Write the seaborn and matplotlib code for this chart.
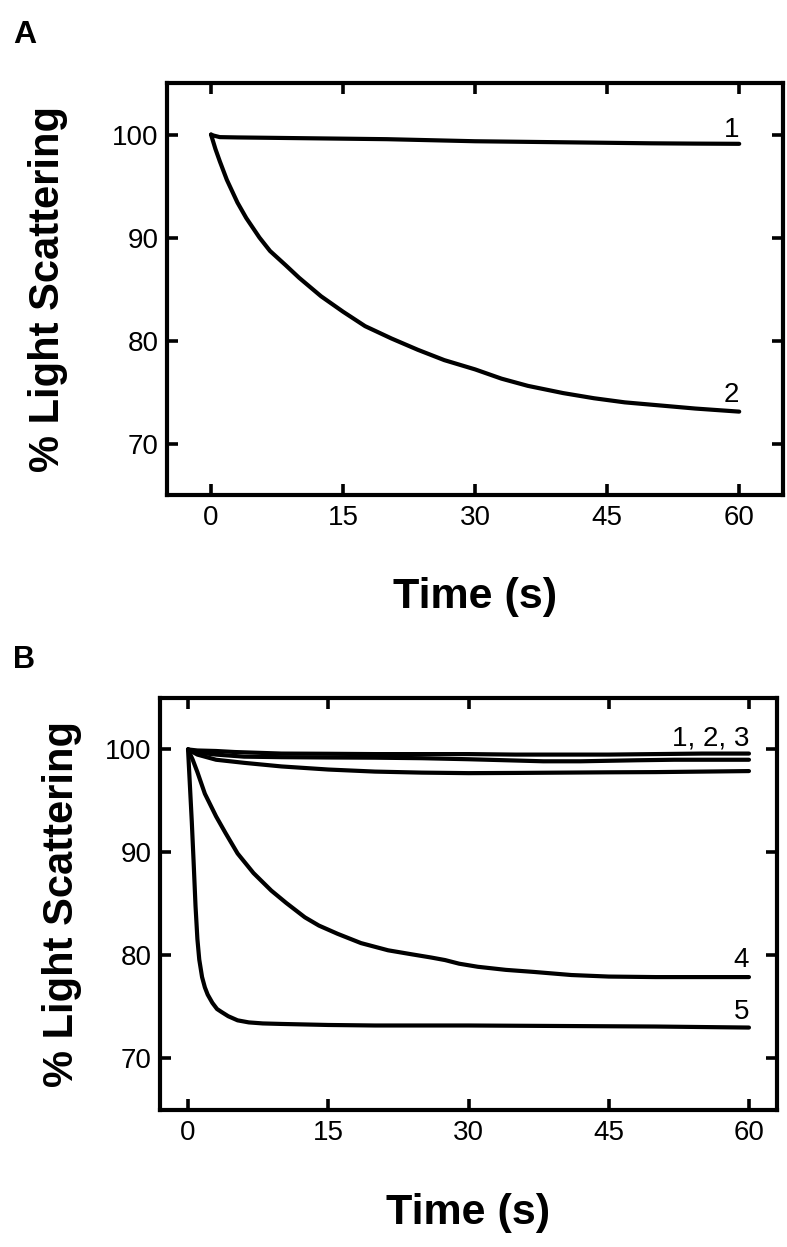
import matplotlib
matplotlib.use("Agg")
import matplotlib.pyplot as plt
import pandas as pd
import seaborn as sns

# ---- data ----
# Panel A
a1_t = [0, 0.3, 1, 3, 5, 10, 15, 20, 25, 30, 35, 40, 45, 50, 55, 60]
a1_y = [100, 99.9, 99.75, 99.72, 99.7, 99.65, 99.6, 99.55, 99.45, 99.35, 99.3, 99.25, 99.2, 99.15, 99.12, 99.1]

a2_t = [0, 0.5, 1.0, 1.8, 3, 4, 5.5, 6.7, 8.5, 10, 12.5, 15, 17.5, 20.5, 23.5, 26.5,
        30, 33, 36, 40, 43.5, 47, 51, 55, 60]
a2_y = [100, 98.6, 97.4, 95.6, 93.4, 91.9, 90.0, 88.7, 87.3, 86.1, 84.3, 82.8, 81.4, 80.2, 79.1, 78.1,
        77.2, 76.3, 75.6, 74.9, 74.4, 74.0, 73.7, 73.4, 73.1]

# Panel B
b1_t = [0, 1, 3, 5, 10, 15, 20, 25, 30, 35, 40, 45, 50, 55, 60]
b1_y = [100, 99.9, 99.85, 99.75, 99.6, 99.58, 99.55, 99.55, 99.55, 99.5, 99.5, 99.5, 99.55, 99.6, 99.6]

b2_t = [0, 1, 3, 6, 10, 15, 20, 25, 30, 34, 38, 42, 45, 48, 52, 56, 60]
b2_y = [100, 99.7, 99.5, 99.3, 99.25, 99.22, 99.2, 99.15, 99.05, 98.95, 98.85, 98.85, 98.9, 98.95, 99.0, 99.0, 99.0]

b3_t = [0, 1, 3, 6, 10, 15, 20, 25, 30, 35, 40, 45, 50, 55, 60]
b3_y = [100, 99.5, 99.0, 98.7, 98.35, 98.05, 97.85, 97.75, 97.7, 97.72, 97.75, 97.78, 97.8, 97.85, 97.9]

b4_t = [0, 0.5, 1.0, 1.8, 3, 4, 5.3, 7, 8.9, 10.5, 12.5, 14, 16, 18.5, 21.4, 24, 26,
        27.5, 29, 31, 34, 37, 41, 45, 50, 55, 60]
b4_y = [100, 99.0, 97.8, 95.7, 93.5, 91.9, 89.9, 88.0, 86.3, 85.1, 83.7, 82.9, 82.1, 81.2, 80.5, 80.1, 79.8,
        79.55, 79.2, 78.9, 78.6, 78.4, 78.1, 77.95, 77.9, 77.9, 77.9]

b5_t = [0, 0.2, 0.4, 0.6, 0.8, 1.0, 1.2, 1.5, 1.8, 2.1, 2.6, 3.1, 3.6, 4.3, 5.3, 6.5, 8, 10,
        15, 20, 30, 40, 50, 60]
b5_y = [100, 96.5, 93.0, 89.0, 84.8, 81.6, 79.6, 77.9, 76.9, 76.2, 75.4, 74.8, 74.5, 74.1, 73.7, 73.5, 73.4, 73.35,
        73.25, 73.2, 73.2, 73.15, 73.1, 73.0]

a_curves = {"1": (a1_t, a1_y), "2": (a2_t, a2_y)}
b_curves = {"1": (b1_t, b1_y), "2": (b2_t, b2_y), "3": (b3_t, b3_y),
            "4": (b4_t, b4_y), "5": (b5_t, b5_y)}

x_ticks = [0, 15, 30, 45, 60]
y_ticks = [70, 80, 90, 100]

sns.set_style("ticks")
plt.rcParams["font.family"] = ["Liberation Sans", "DejaVu Sans"]
plt.rcParams["text.color"] = "black"
plt.rcParams["axes.labelcolor"] = "black"
plt.rcParams["xtick.color"] = "black"
plt.rcParams["ytick.color"] = "black"


def to_frame(curves):
    rows = []
    for name, (t, y) in curves.items():
        for ti, yi in zip(t, y):
            rows.append({"curve": name, "time": ti, "ls": yi})
    return pd.DataFrame(rows)


def style_axes(ax, xlim):
    ax.set_xlim(*xlim)
    ax.set_ylim(65, 105)
    ax.set_xticks(x_ticks)
    ax.set_yticks(y_ticks)
    ax.set_xlabel("")
    ax.set_ylabel("")
    for sp in ax.spines.values():
        sp.set_visible(True)
        sp.set_linewidth(3)
        sp.set_color("black")
    ax.tick_params(direction="in", length=8, width=2.6, top=True, right=True,
                   labelsize=20, colors="black", labelcolor="black")
    ax.tick_params(axis="x", pad=7)
    ax.tick_params(axis="y", pad=6)


fig = plt.figure(figsize=(7.87, 12.47), dpi=100)

# panel A
axA = fig.add_axes([0.2122, 0.6030, 0.7830, 0.3304])
dfA = to_frame(a_curves)
sns.lineplot(data=dfA, x="time", y="ls", units="curve", estimator=None, sort=False,
             color="black", linewidth=3.0, ax=axA)
style_axes(axA, (-5, 65))
axA.text(60, 99.8, "1", ha="right", va="baseline", fontsize=20, color="black")
axA.text(60, 74.0, "2", ha="right", va="baseline", fontsize=20, color="black")

# panel B
axB = fig.add_axes([0.2033, 0.1099, 0.7840, 0.3304])
dfB = to_frame(b_curves)
sns.lineplot(data=dfB, x="time", y="ls", units="curve", estimator=None, sort=False,
             color="black", linewidth=3.0, ax=axB)
style_axes(axB, (-3, 63))
axB.text(60, 100.4, "1, 2, 3", ha="right", va="baseline", fontsize=20, color="black")
axB.text(60, 78.9, "4", ha="right", va="baseline", fontsize=20, color="black")
axB.text(60, 73.8, "5", ha="right", va="baseline", fontsize=20, color="black")

# axis titles and panel letters
fig.text(48 / 787, 1 - 289 / 1247, "% Light Scattering", rotation=90, ha="center", va="center",
         fontsize=30, fontweight="bold", color="black")
fig.text(62 / 787, 1 - 904 / 1247, "% Light Scattering", rotation=90, ha="center", va="center",
         fontsize=30, fontweight="bold", color="black")
fig.text(475 / 787, 1 - 597 / 1247, "Time (s)", ha="center", va="center",
         fontsize=31, fontweight="bold", color="black")
fig.text(468 / 787, 1 - 1213 / 1247, "Time (s)", ha="center", va="center",
         fontsize=31, fontweight="bold", color="black")
fig.text(13 / 787, 1 - 43 / 1247, "A", ha="left", va="baseline", fontsize=23,
         fontweight="bold", color="black")
fig.text(13 / 787, 1 - 668 / 1247, "B", ha="left", va="baseline", fontsize=22,
         fontweight="bold", color="black")

fig.savefig("out.png", dpi=100, facecolor="white")
